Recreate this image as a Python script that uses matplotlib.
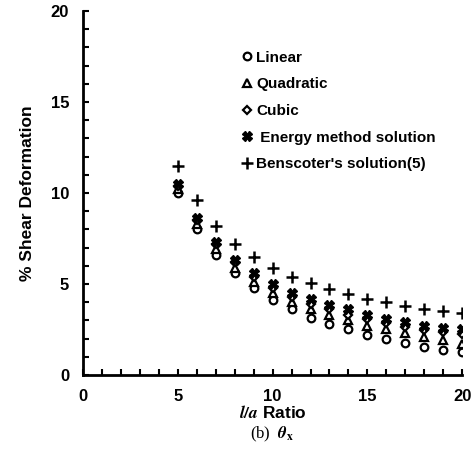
import numpy as np
import matplotlib
matplotlib.use("Agg")
import matplotlib.pyplot as plt

plt.rcParams['font.family'] = ['Liberation Sans', 'DejaVu Sans']
plt.rcParams['font.weight'] = 'bold'
plt.rcParams['mathtext.fontset'] = 'stix'

ratio = [5, 6, 7, 8, 9, 10, 11, 12, 13, 14, 15, 16, 17, 18, 19, 20]
linear = [10.0, 8.0, 6.6, 5.6, 4.8, 4.1, 3.6, 3.15, 2.8, 2.5, 2.2, 2.0, 1.75, 1.55, 1.4, 1.25]
quadratic = [10.2, 8.3, 6.9, 5.9, 5.1, 4.5, 4.0, 3.6, 3.3, 3.0, 2.7, 2.5, 2.3, 2.1, 1.9, 1.7]
cubic = [10.4, 8.5, 7.2, 6.2, 5.4, 4.8, 4.3, 3.9, 3.6, 3.3, 3.05, 2.85, 2.65, 2.45, 2.35, 2.25]
energy = [10.5, 8.6, 7.3, 6.3, 5.6, 5.0, 4.5, 4.2, 3.85, 3.6, 3.3, 3.1, 2.9, 2.7, 2.6, 2.5]
benscoter = [11.5, 9.6, 8.2, 7.2, 6.5, 5.9, 5.4, 5.05, 4.7, 4.45, 4.2, 4.0, 3.8, 3.65, 3.5, 3.4]

fig = plt.figure(figsize=(4.77, 4.54), dpi=100)
ax = fig.add_axes([0.174, 0.174, 0.795, 0.802])

ms = 5.5
ax.plot(ratio, linear, 'o', ms=ms, mfc='white', mec='black', mew=1.6, label='Linear')
ax.plot(ratio, quadratic, '^', ms=ms, mfc='white', mec='black', mew=1.6, label='Quadratic')
ax.plot(ratio, cubic, 'D', ms=ms - 1, mfc='white', mec='black', mew=1.6, label='Cubic')
ax.plot(ratio, energy, 'X', ms=ms + 1, mfc='black', mec='black', mew=1, label=' Energy method solution')
ax.plot(ratio, benscoter, '+', ms=ms + 3, mec='black', mew=1.8, label="Benscoter's solution(5)")

ax.set_xlim(0, 20)
ax.set_ylim(0, 20)
ax.set_xticks([0, 5, 10, 15, 20])
ax.set_yticks([0, 5, 10, 15, 20])
ax.set_xticks(np.arange(0, 21, 1), minor=True)
ax.set_yticks(np.arange(0, 21, 1), minor=True)
ax.tick_params(which='both', direction='in', length=4, width=1.5, labelsize=12, pad=10)
for lab in ax.get_xticklabels() + ax.get_yticklabels():
    lab.set_fontweight('bold')

for s in ['top', 'right']:
    ax.spines[s].set_visible(False)
for s in ['left', 'bottom']:
    ax.spines[s].set_linewidth(2)

ax.set_ylabel('% Shear Deformation', fontsize=12.5, fontweight='bold', labelpad=11)
ax.set_xlabel(r'$\mathit{l/a}$ Ratio', fontsize=12.5, fontweight='bold', labelpad=0)

ax.legend(loc='upper left', bbox_to_anchor=(0.40, 0.912), frameon=False,
          handlelength=0.6, handletextpad=0.3, labelspacing=0.83,
          borderpad=0, prop={'weight': 'bold', 'size': 11})

fig.text(0.57, 0.044, r'(b)  $\theta_{\mathrm{x}}$', ha='center', va='center',
         fontsize=12, family='Liberation Serif', fontweight='normal')

fig.savefig('out.png', dpi=100)
